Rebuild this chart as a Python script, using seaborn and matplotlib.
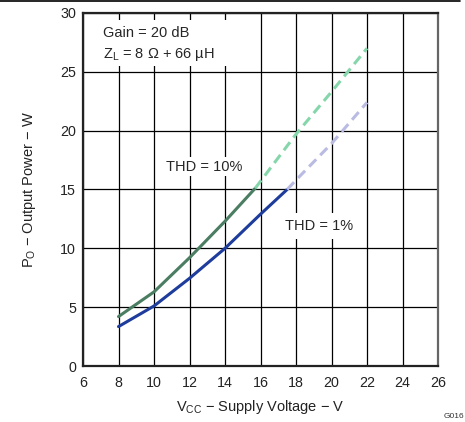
import matplotlib
matplotlib.use("Agg")
import matplotlib.pyplot as plt
import seaborn as sns
import pandas as pd
from matplotlib.lines import Line2D
from matplotlib.patches import Rectangle

# Data
v_thd10_solid = [8, 10, 12, 14, 15.7]
p_thd10_solid = [4.2, 6.3, 9.2, 12.3, 15.1]
v_thd10_dash = [15.7, 16, 18, 20, 22]
p_thd10_dash = [15.1, 15.7, 19.7, 23.3, 27.0]

v_thd1_solid = [8, 10, 12, 14, 16, 17.5]
p_thd1_solid = [3.35, 5.1, 7.45, 10.0, 12.9, 15.0]
v_thd1_dash = [17.5, 18, 20, 22]
p_thd1_dash = [15.0, 15.8, 18.9, 22.4]

x_ticks = [6, 8, 10, 12, 14, 16, 18, 20, 22, 24, 26]
y_ticks = [0, 5, 10, 15, 20, 25, 30]

sns.set_theme(style="white")
plt.rcParams['font.family'] = ['Liberation Sans', 'DejaVu Sans']
plt.rcParams['mathtext.fontset'] = 'custom'
plt.rcParams['mathtext.rm'] = 'Liberation Sans'
plt.rcParams['mathtext.it'] = 'Liberation Sans'

fig = plt.figure(figsize=(4.65, 4.22), dpi=100)
ax = fig.add_axes([83/465, 56/422, (438-83)/465, (366-13)/422])

segments = [
    (v_thd10_solid, p_thd10_solid, "#4a7d62", "-"),
    (v_thd10_dash, p_thd10_dash, "#86d6ab", (0, (3.3, 1.9))),
    (v_thd1_solid, p_thd1_solid, "#1e3c9c", "-"),
    (v_thd1_dash, p_thd1_dash, "#b9bbe2", (0, (3.3, 1.9))),
]
for xs, ys, col, ls in segments:
    df = pd.DataFrame({"V": xs, "P": ys})
    sns.lineplot(data=df, x="V", y="P", ax=ax, color=col, linewidth=2.2,
                 linestyle=ls, zorder=3, estimator=None, sort=False)

ax.set_xlim(6, 26)
ax.set_ylim(0, 30)
ax.set_xticks(x_ticks)
ax.set_yticks(y_ticks)
ax.grid(True, color="black", linewidth=0.9)
ax.set_axisbelow(True)
ax.tick_params(axis="both", length=0, labelsize=10.3, colors="#222222")
ax.tick_params(axis="x", pad=7)
ax.tick_params(axis="y", pad=5)
for s in ax.spines.values():
    s.set_visible(True)
    s.set_color("#222222")
    s.set_linewidth(1.6)
    s.set_zorder(5)
ax.spines["right"].set_color("#666666")

ax.set_xlabel(r"V$_{\mathrm{CC}}$ − Supply Voltage − V", fontsize=10.5, color="#222222", labelpad=6)
ax.set_ylabel(r"P$_{\mathrm{O}}$ − Output Power − W", fontsize=10.5, color="#222222", labelpad=16)

# white backing behind the condition note
ax.add_patch(Rectangle((6.7, 25.5), 7.6, 3.9, facecolor="white", edgecolor="none", zorder=2.5))
ax.text(7.1, 27.3, "Gain = 20 dB\n" + r"Z$_{\mathrm{L}}$ = 8 Ω + 66 µH", fontsize=10.5,
        va="center", ha="left", linespacing=1.5, zorder=4)
ax.text(10.7, 16.95, "THD = 10%", fontsize=10.5, va="center", ha="left",
        bbox=dict(facecolor="white", edgecolor="none", pad=2), zorder=4)
ax.text(17.4, 11.9, "THD = 1%", fontsize=10.5, va="center", ha="left",
        bbox=dict(facecolor="white", edgecolor="none", pad=4), zorder=4)

fig.add_artist(Line2D([0, 0.99], [0.997, 0.997], transform=fig.transFigure, color="black", linewidth=1.2))
fig.text(464/465, 1 - 416/422, "G016", fontsize=6, va="center", ha="right", color="#333333")

fig.savefig("out.png", dpi=100)
